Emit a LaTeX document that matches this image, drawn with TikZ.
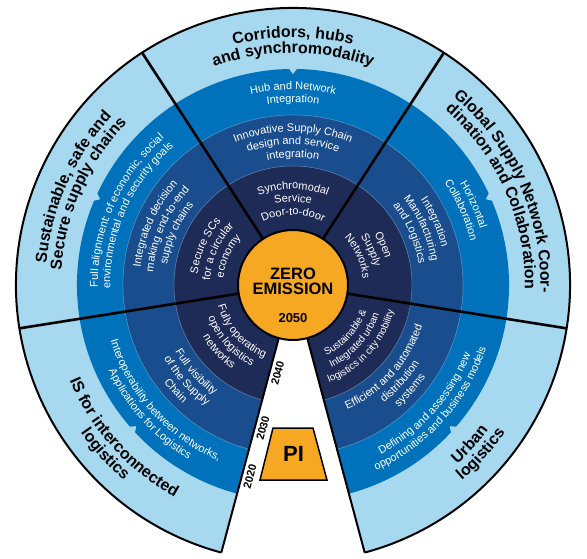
\documentclass[tikz,border=0pt]{standalone}
\usepackage{fontspec}
\setmainfont{Liberation Sans}
\usetikzlibrary{decorations.text}
\definecolor{lightring}{RGB}{166,216,240}
\definecolor{medring}{RGB}{0,114,187}
\definecolor{darkring}{RGB}{25,77,141}
\definecolor{navyring}{RGB}{31,43,87}
\definecolor{orangec}{RGB}{247,168,35}
\newcommand{\myOuterFont}{\bfseries\fontsize{16}{18}\selectfont}
\newcommand{\myInnerFont}{\fontsize{11}{13}\selectfont}
\newcommand{\mySmallFont}{\fontsize{10}{12}\selectfont}
\newcommand{\arcline}[6]{\path[decorate,decoration={text along path,text align=center,text color=#4,text={|#5|#6}}] (#1:#3) arc[start angle=#1,end angle=#2,radius=#3];}
\begin{document}
\begin{tikzpicture}[x=1pt,y=1pt,
  divider/.style={line width=2.6pt,black},
  ringline/.style={line width=0.5pt,lightring,opacity=0.5},
  yearlabel/.style={font=\bfseries\fontsize{11}{12}\selectfont,rotate=75,inner sep=0pt}]
\useasboundingbox (-293,-273) rectangle (294,285);
\fill[white] (-293,-273) rectangle (294,285);
% rings
\fill[lightring] (0,0) -- (-75:277) arc[start angle=-75,end angle=255,radius=277] -- cycle;
\fill[medring] (0,0) -- (-75:216) arc[start angle=-75,end angle=255,radius=216] -- cycle;
\fill[darkring] (0,0) -- (-75:170) arc[start angle=-75,end angle=255,radius=170] -- cycle;
\fill[navyring] (0,0) -- (-75:119) arc[start angle=-75,end angle=255,radius=119] -- cycle;
\draw[ringline] (-75:170) arc[start angle=-75,end angle=255,radius=170];
\draw[ringline] (-75:119) arc[start angle=-75,end angle=255,radius=119];
\foreach \a in {90,24,156,222,-42}
  \fill[lightring] ({\a-1.2}:217) -- ({\a+1.2}:217) -- (\a:211) -- cycle;
% Corridors
\arcline{123}{57}{247.5}{black}{\myOuterFont}{Corridors, hubs}
\arcline{123}{57}{232}{black}{\myOuterFont}{and synchromodality}
\arcline{123}{57}{195.25}{white}{\myInnerFont}{Hub and Network}
\arcline{123}{57}{182.75}{white}{\myInnerFont}{Integration}
\arcline{123}{57}{153.5}{white}{\myInnerFont}{Innovative Supply Chain}
\arcline{123}{57}{140.5}{white}{\myInnerFont}{design and service}
\arcline{123}{57}{127.5}{white}{\myInnerFont}{integration}
\arcline{123}{57}{96}{white}{\myInnerFont}{Synchromodal}
\arcline{123}{57}{83}{white}{\myInnerFont}{Service}
\arcline{123}{57}{70}{white}{\myInnerFont}{Door-to-door}
% Global
\arcline{57}{-9}{247.5}{black}{\myOuterFont}{Global Supply Network Coor-}
\arcline{57}{-9}{232}{black}{\myOuterFont}{dination and Collaboration}
\arcline{57}{-9}{195.25}{white}{\myInnerFont}{Horizontal}
\arcline{57}{-9}{182.75}{white}{\myInnerFont}{Collaboration}
\arcline{57}{-9}{153.5}{white}{\myInnerFont}{Integration}
\arcline{57}{-9}{140.5}{white}{\myInnerFont}{Manufacturing}
\arcline{57}{-9}{127.5}{white}{\myInnerFont}{and Logistics}
\arcline{57}{-9}{96}{white}{\myInnerFont}{Open}
\arcline{57}{-9}{83}{white}{\myInnerFont}{Supply}
\arcline{57}{-9}{70}{white}{\myInnerFont}{Networks}
% Sustainable
\arcline{189}{123}{247.5}{black}{\myOuterFont}{Sustainable, safe and}
\arcline{189}{123}{232}{black}{\myOuterFont}{Secure supply chains}
\arcline{189}{123}{195.25}{white}{\myInnerFont}{Full alignment: of economic, social}
\arcline{189}{123}{182.75}{white}{\myInnerFont}{environmental and security goals}
\arcline{189}{123}{153.5}{white}{\myInnerFont}{Integrated decision}
\arcline{189}{123}{140.5}{white}{\myInnerFont}{making end-to-end}
\arcline{189}{123}{127.5}{white}{\myInnerFont}{supply chains}
\arcline{189}{123}{96}{white}{\myInnerFont}{Secure SCs}
\arcline{189}{123}{83}{white}{\myInnerFont}{for a circular}
\arcline{189}{123}{70}{white}{\myInnerFont}{economy}
% IS
\arcline{189}{255}{243}{black}{\myOuterFont}{IS for interconnected}
\arcline{189}{255}{258.5}{black}{\myOuterFont}{logistics}
\arcline{189}{255}{190.75}{white}{\myInnerFont}{Interoperability between networks,}
\arcline{189}{255}{203.25}{white}{\myInnerFont}{Applications for Logistics}
\arcline{189}{255}{135.5}{white}{\myInnerFont}{Full visibility}
\arcline{189}{255}{148.5}{white}{\myInnerFont}{of the Supply}
\arcline{189}{255}{161.5}{white}{\myInnerFont}{Chain}
\arcline{189}{255}{78}{white}{\myInnerFont}{Fully operating}
\arcline{189}{255}{91}{white}{\myInnerFont}{open logistics}
\arcline{189}{255}{104}{white}{\myInnerFont}{networks}
% Urban
\arcline{-75}{-9}{243}{black}{\myOuterFont}{Urban}
\arcline{-75}{-9}{258.5}{black}{\myOuterFont}{logistics}
\arcline{-75}{-9}{190.75}{white}{\myInnerFont}{Defining and assessing new}
\arcline{-75}{-9}{203.25}{white}{\myInnerFont}{opportunities and business models}
\arcline{-75}{-9}{135.5}{white}{\myInnerFont}{Efficient and automated}
\arcline{-75}{-9}{148.5}{white}{\myInnerFont}{distribution}
\arcline{-75}{-9}{161.5}{white}{\myInnerFont}{systems}
\arcline{-75}{-9}{78}{white}{\mySmallFont}{Sustainable {\&}}
\arcline{-75}{-9}{91}{white}{\mySmallFont}{Integrated urban}
\arcline{-75}{-9}{104}{white}{\mySmallFont}{logistics in city mobility}
% dividers and borders
\foreach \a in {57,123,189,-9}
  \draw[divider] (\a:50) -- (\a:277);
\draw[line width=2pt] (-75:50) -- (-75:277);
\draw[line width=2pt] (255:50) -- (255:277);
\draw[line width=2pt] (-75:277) arc[start angle=-75,end angle=255,radius=277];
% centre
\node[circle,fill=orangec,draw=black,line width=2pt,minimum size=110pt,inner sep=0pt] (core) at (0,0) {};
\node[font=\bfseries\fontsize{16.5}{18}\selectfont] (zero) at (0,11) {ZERO};
\node[font=\bfseries\fontsize{16.5}{18}\selectfont] (emission) at (0,-4) {EMISSION};
\node[font=\bfseries\fontsize{13}{14}\selectfont] (y2050) at (0,-33) {2050};
% years
\node[yearlabel] (y2040) at (-15.3,-88.1) {2040};
\node[yearlabel] (y2030) at (-30.1,-143.1) {2030};
\node[yearlabel] (y2020) at (-43,-191.4) {2020};
% PI
\draw[fill=orangec,line width=1.5pt] (-20,-143) -- (20,-143) -- (34,-195) -- (-33,-195) -- cycle;
\node[font=\bfseries\fontsize{22}{24}\selectfont] (pi) at (0.5,-169) {PI};
\end{tikzpicture}
\end{document}
